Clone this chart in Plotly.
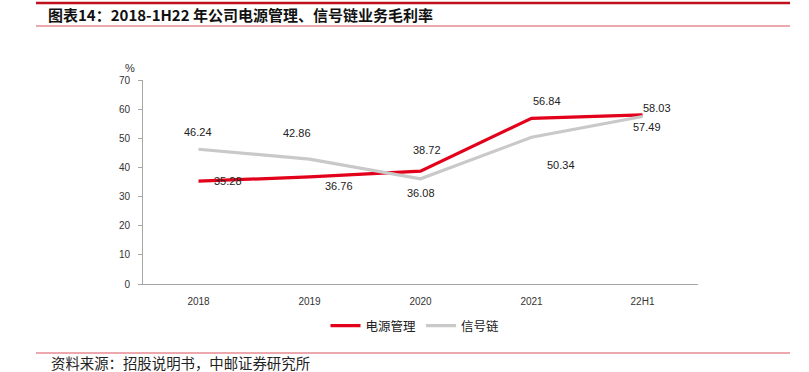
import plotly.graph_objects as go

categories = ["2018", "2019", "2020", "2021", "22H1"]
power_mgmt = [35.28, 36.76, 38.72, 56.84, 58.03]
signal_chain = [46.24, 42.86, 36.08, 50.34, 57.49]
y_ticks = [0, 10, 20, 30, 40, 50, 60, 70]

title_text = "图表14：2018-1H22 年公司电源管理、信号链业务毛利率"
source_text = "资料来源：招股说明书，中邮证券研究所"
name_power = "电源管理"
name_signal = "信号链"

RED = "#e2001a"
GREY = "#c9c9c9"

# label pixel offsets (style only)
red_off = [(29, 0), (29, -9), (6, 21), (15, 17), (14, 7)]
grey_off = [(-1, 17), (-13, 26), (0, -14), (29, -28), (4, -11)]

W, H = 809, 372
ML, MR, MT, MB = 143, 809 - 698, 80, 372 - 284
PW, PH = W - ML - MR, H - MT - MB

def px(xp):
    return (xp - ML) / PW

def py(yp):
    return (H - MB - yp) / PH

fig = go.Figure()
fig.add_trace(go.Scatter(x=categories, y=power_mgmt, mode="lines", name=name_power,
                         line=dict(color=RED, width=3.2)))
fig.add_trace(go.Scatter(x=categories, y=signal_chain, mode="lines", name=name_signal,
                         line=dict(color=GREY, width=3.2)))

ann = []
for i, (v, (dx, dy)) in enumerate(zip(power_mgmt, red_off)):
    ann.append(dict(x=i, y=v, xref="x", yref="y", text=f"{v:.2f}", showarrow=False,
                    xshift=dx, yshift=dy, font=dict(family="Liberation Sans", size=11, color="#222")))
for i, (v, (dx, dy)) in enumerate(zip(signal_chain, grey_off)):
    ann.append(dict(x=i, y=v, xref="x", yref="y", text=f"{v:.2f}", showarrow=False,
                    xshift=dx, yshift=dy, font=dict(family="Liberation Sans", size=11, color="#222")))

ann.append(dict(x=px(46), y=py(14), xref="paper", yref="paper", xanchor="left", yanchor="middle",
                text="<b>" + title_text + "</b>", showarrow=False,
                font=dict(family="Noto Sans CJK SC", size=15, color="#111")))
ann.append(dict(x=px(49), y=py(362), xref="paper", yref="paper", xanchor="left", yanchor="middle",
                text=source_text, showarrow=False,
                font=dict(family="Noto Sans CJK SC", size=14.4, color="#222")))
ann.append(dict(x=px(130), y=py(68), xref="paper", yref="paper", xanchor="center", yanchor="middle",
                text="%", showarrow=False,
                font=dict(family="Liberation Sans", size=11, color="#333")))

shapes = [
    dict(type="line", xref="paper", yref="paper", x0=px(36), x1=px(790), y0=py(3), y1=py(3),
         line=dict(color="#c0101e", width=2.5)),
    dict(type="line", xref="paper", yref="paper", x0=px(36), x1=px(790), y0=py(26), y1=py(26),
         line=dict(color="#d9535b", width=1)),
    dict(type="line", xref="paper", yref="paper", x0=px(36), x1=px(790), y0=py(353), y1=py(353),
         line=dict(color="#d9535b", width=1.2)),
]

fig.update_layout(
    width=W, height=H,
    margin=dict(l=ML, r=MR, t=MT, b=MB, autoexpand=False),
    paper_bgcolor="white", plot_bgcolor="white",
    showlegend=True,
    legend=dict(orientation="h", x=px(415), xanchor="center", y=py(326), yanchor="middle",
                font=dict(family="Noto Sans CJK SC", size=12.5, color="#222"),
                itemwidth=30, bgcolor="rgba(0,0,0,0)"),
    annotations=ann,
    shapes=shapes,
    xaxis=dict(type="category", range=[-0.5, 4.5], showgrid=False, zeroline=False,
               showline=True, linecolor="#a6a6a6", linewidth=1,
               ticks="", tickfont=dict(family="Liberation Sans", size=10, color="#333"),
               ticklabelstandoff=8, fixedrange=True),
    yaxis=dict(range=[0, 70], tickvals=y_ticks, showgrid=False, zeroline=False,
               showline=True, linecolor="#a6a6a6", linewidth=1,
               ticks="outside", ticklen=4, tickcolor="#a6a6a6",
               tickfont=dict(family="Liberation Sans", size=10, color="#333"),
               ticklabelstandoff=6, fixedrange=True),
)

fig.write_html("out.html", config={"displayModeBar": False},
               post_script="document.body.style.margin='0';document.body.style.padding='0';")
